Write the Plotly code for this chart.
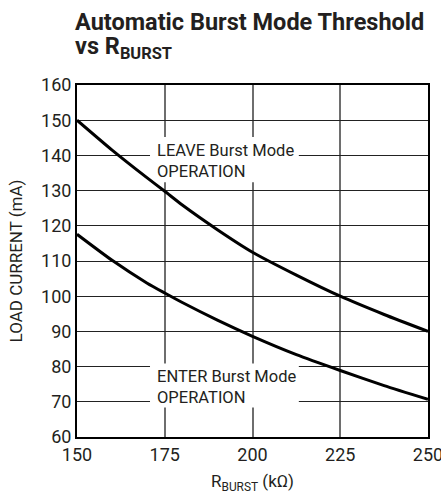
import plotly.graph_objects as go

# Data
leave_r = [150, 160, 170, 175, 180, 190, 200, 212.5, 225, 237.5, 250]
leave_i = [150, 141.5, 133.6, 129.8, 125.9, 118.9, 112.5, 106, 100, 94.8, 90]
enter_r = [150, 160, 170, 175, 180, 190, 200, 212.5, 225, 237.5, 250]
enter_i = [117.6, 110.2, 103.7, 100.9, 98.2, 93.2, 88.6, 83.4, 78.9, 74.6, 70.7]

x_ticks = [150, 175, 200, 225, 250]
y_ticks = [60, 70, 80, 90, 100, 110, 120, 130, 140, 150, 160]

FONT = "Roboto, 'Liberation Sans', Arial, sans-serif"
TFONT = "'Liberation Sans Narrow', 'Roboto', sans-serif"
INK = "#231f20"

fig = go.Figure()
for xs, ys in [(leave_r, leave_i), (enter_r, enter_i)]:
    fig.add_trace(go.Scatter(x=xs, y=ys, mode="lines",
                             line=dict(color="black", width=3, shape="spline", smoothing=0.6),
                             showlegend=False, hoverinfo="skip"))

# white boxes breaking the grid behind the labels
fig.add_shape(type="rect", xref="x", yref="y", x0=170.8, x1=213.2, y0=132.4, y1=145.2,
              fillcolor="white", line=dict(width=0), layer="between")
fig.add_shape(type="rect", xref="x", yref="y", x0=170.8, x1=213.2, y0=68.4, y1=80.9,
              fillcolor="white", line=dict(width=0), layer="between")

fig.add_annotation(x=172.2, y=138.3, xref="x", yref="y", xanchor="left", yanchor="middle",
                   text="LEAVE Burst Mode<br>OPERATION", align="left", showarrow=False,
                   font=dict(family=FONT, size=16.5, color=INK))
fig.add_annotation(x=172.2, y=74.3, xref="x", yref="y", xanchor="left", yanchor="middle",
                   text="ENTER Burst Mode<br>OPERATION", align="left", showarrow=False,
                   font=dict(family=FONT, size=16.5, color=INK))

# title (two lines, tight leading)
fig.add_annotation(x=-0.011, y=1.18, xref="paper", yref="paper",
                   text="<b>Automatic Burst Mode Threshold</b>",
                   showarrow=False, xanchor="left", yanchor="middle",
                   font=dict(family=TFONT, size=23.5, color=INK))
fig.add_annotation(x=-0.011, y=1.107, xref="paper", yref="paper",
                   text="<b>vs R<sub>BURST</sub></b>",
                   showarrow=False, xanchor="left", yanchor="middle",
                   font=dict(family=TFONT, size=23.5, color=INK))

fig.update_xaxes(range=[150, 250], tickvals=x_ticks, ticktext=[str(v) for v in x_ticks],
                 showgrid=True, gridcolor="#6e6e6e", gridwidth=2,
                 showline=True, linecolor="black", linewidth=2, mirror=True, ticks="",
                 tickfont=dict(family=FONT, size=18, color=INK), ticklabeloverflow="allow",
                 automargin=False,
                 title=dict(text="R<sub>BURST</sub> (kΩ)", font=dict(family=FONT, size=17, color=INK), standoff=12),
                 zeroline=False)
fig.update_yaxes(range=[60, 160], tickvals=y_ticks, ticktext=[str(v) for v in y_ticks],
                 showgrid=True, gridcolor="#222", gridwidth=1,
                 showline=True, linecolor="black", linewidth=2, mirror=True, ticks="",
                 tickfont=dict(family=FONT, size=18, color=INK), automargin=False,
                 title=dict(text="LOAD CURRENT (mA)", font=dict(family=FONT, size=17, color=INK), standoff=14),
                 zeroline=False)

fig.update_layout(width=441, height=496, margin=dict(l=77, r=13, t=85, b=59, autoexpand=False),
                  plot_bgcolor="white", paper_bgcolor="white", showlegend=False)

fig.write_html("out.html", config={"displayModeBar": False},
               post_script="document.body.style.margin='0';")
